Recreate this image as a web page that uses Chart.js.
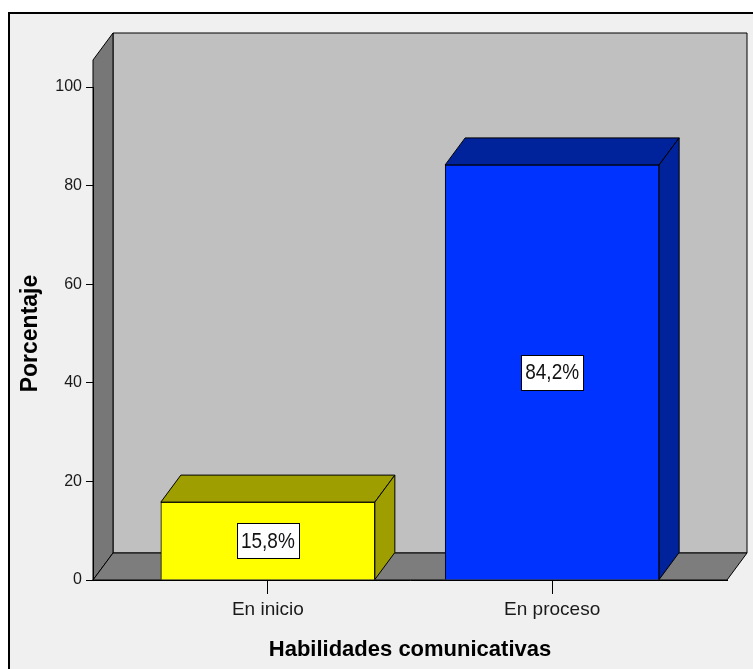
<!DOCTYPE html>
<html>
<head>
<meta charset="utf-8">
<script src="https://cdn.jsdelivr.net/npm/chart.js@4.4.1/dist/chart.umd.min.js"></script>
<style>
  html, body { margin: 0; padding: 0; background: #fff; }
  canvas { display: block; }
</style>
</head>
<body>
<canvas id="chart" width="753" height="669"></canvas>
<script>
const categories = ['En inicio', 'En proceso'];
const percentages = [15.8, 84.2];
const valueLabels = ['15,8%', '84,2%'];
const yTickValues = [0, 20, 40, 60, 80, 100];

const frontColors = ['#ffff00', '#0033ff'];
const shadeColors = ['#9e9e00', '#00229a'];

const FONT = '"Liberation Sans", Arial, sans-serif';
const DX = 20, DY = 27; // depth of the 3D effect

function poly(ctx, pts, fill) {
  ctx.beginPath();
  ctx.moveTo(pts[0][0], pts[0][1]);
  for (let i = 1; i < pts.length; i++) ctx.lineTo(pts[i][0], pts[i][1]);
  ctx.closePath();
  ctx.fillStyle = fill;
  ctx.fill();
  ctx.stroke();
}

const box3d = {
  id: 'box3d',
  beforeDraw(chart) {
    const ctx = chart.ctx;
    const a = chart.chartArea;
    ctx.save();
    ctx.fillStyle = '#fff';
    ctx.fillRect(0, 0, chart.width, chart.height);
    // outer frame
    ctx.fillStyle = '#f0f0f0';
    ctx.fillRect(9, 13, chart.width, chart.height);
    ctx.strokeStyle = '#000';
    ctx.lineWidth = 2;
    ctx.strokeRect(9, 13, chart.width + 20, chart.height + 20);

    ctx.lineWidth = 1;
    const L = a.left, R = a.right, B = a.bottom, T = a.top - DY;
    // back wall
    poly(ctx, [[L + DX, T - DY], [R + DX, T - DY], [R + DX, B - DY], [L + DX, B - DY]], '#c0c0c0');
    // left wall
    poly(ctx, [[L, B], [L, T], [L + DX, T - DY], [L + DX, B - DY]], '#777777');
    // floor
    poly(ctx, [[L, B], [R, B], [R + DX, B - DY], [L + DX, B - DY]], '#7d7d7d');
    ctx.restore();
  },
  afterDatasetsDraw(chart) {
    const ctx = chart.ctx;
    const meta = chart.getDatasetMeta(0);
    ctx.save();
    ctx.strokeStyle = '#000';
    ctx.lineWidth = 1;
    meta.data.forEach((bar, i) => {
      const p = bar.getProps(['x', 'y', 'base', 'width'], true);
      const x1 = p.x - p.width / 2, x2 = p.x + p.width / 2;
      // top face
      poly(ctx, [[x1, p.y], [x2, p.y], [x2 + DX, p.y - DY], [x1 + DX, p.y - DY]], shadeColors[i]);
      // side face
      poly(ctx, [[x2, p.y], [x2 + DX, p.y - DY], [x2 + DX, p.base - DY], [x2, p.base]], shadeColors[i]);

      // value label
      const cy = (p.y + p.base) / 2;
      ctx.font = '19px ' + FONT;
      const w = ctx.measureText(valueLabels[i]).width + 8;
      const h = 35;
      ctx.fillStyle = '#fff';
      ctx.fillRect(Math.round(p.x - w / 2) + 0.5, Math.round(cy - h / 2) + 0.5, Math.round(w), h);
      ctx.strokeRect(Math.round(p.x - w / 2) + 0.5, Math.round(cy - h / 2) + 0.5, Math.round(w), h);
      ctx.fillStyle = '#111';
      ctx.textAlign = 'center';
      ctx.textBaseline = 'middle';
      ctx.save();
      ctx.translate(p.x, cy + 1);
      ctx.scale(1, 1.2);
      ctx.fillText(valueLabels[i], 0, 0);
      ctx.restore();
    });
    ctx.restore();
  }
};

new Chart(document.getElementById('chart'), {
  type: 'bar',
  data: {
    datasets: [{
      data: categories.map((c, i) => ({ x: i, y: percentages[i] })),
      backgroundColor: frontColors,
      borderColor: '#000',
      borderWidth: 1,
      barThickness: 214
    }]
  },
  options: {
    responsive: false,
    animation: false,
    layout: { padding: { left: 0, top: 87, right: 26, bottom: 0 } },
    plugins: { legend: { display: false }, tooltip: { enabled: false } },
    scales: {
      x: {
        type: 'linear',
        offset: false,
        min: -0.615,
        max: 1.615,
        afterFit(scale) { scale.height = 89; },
        afterBuildTicks(scale) { scale.ticks = categories.map((c, i) => ({ value: i })); },
        grid: { offset: false, drawOnChartArea: false, drawTicks: true, tickLength: 14, color: '#000' },
        border: { display: true, color: '#000' },
        ticks: {
          callback: (v) => categories[v],
          font: { family: FONT, size: 19 },
          color: '#1a1a1a',
          padding: 4,
          maxRotation: 0,
          autoSkip: false
        },
        title: {
          display: true,
          text: 'Habilidades comunicativas',
          font: { family: FONT, size: 22, weight: 'bold' },
          color: '#000',
          padding: { top: 0, bottom: 6 }
        }
      },
      y: {
        min: 0,
        max: 100,
        afterFit(scale) { scale.width = 93; },
        afterBuildTicks(scale) { scale.ticks = yTickValues.map(v => ({ value: v })); },
        grid: { drawOnChartArea: false, drawTicks: true, tickLength: 7, color: '#000' },
        border: { display: true, color: '#000' },
        ticks: {
          font: { family: FONT, size: 16 },
          color: '#1a1a1a',
          padding: 4
        },
        title: {
          display: true,
          text: 'Porcentaje',
          font: { family: FONT, size: 23, weight: 'bold' },
          color: '#000',
          padding: { top: 17, bottom: 0 }
        }
      }
    }
  },
  plugins: [box3d]
});
</script>
</body>
</html>
